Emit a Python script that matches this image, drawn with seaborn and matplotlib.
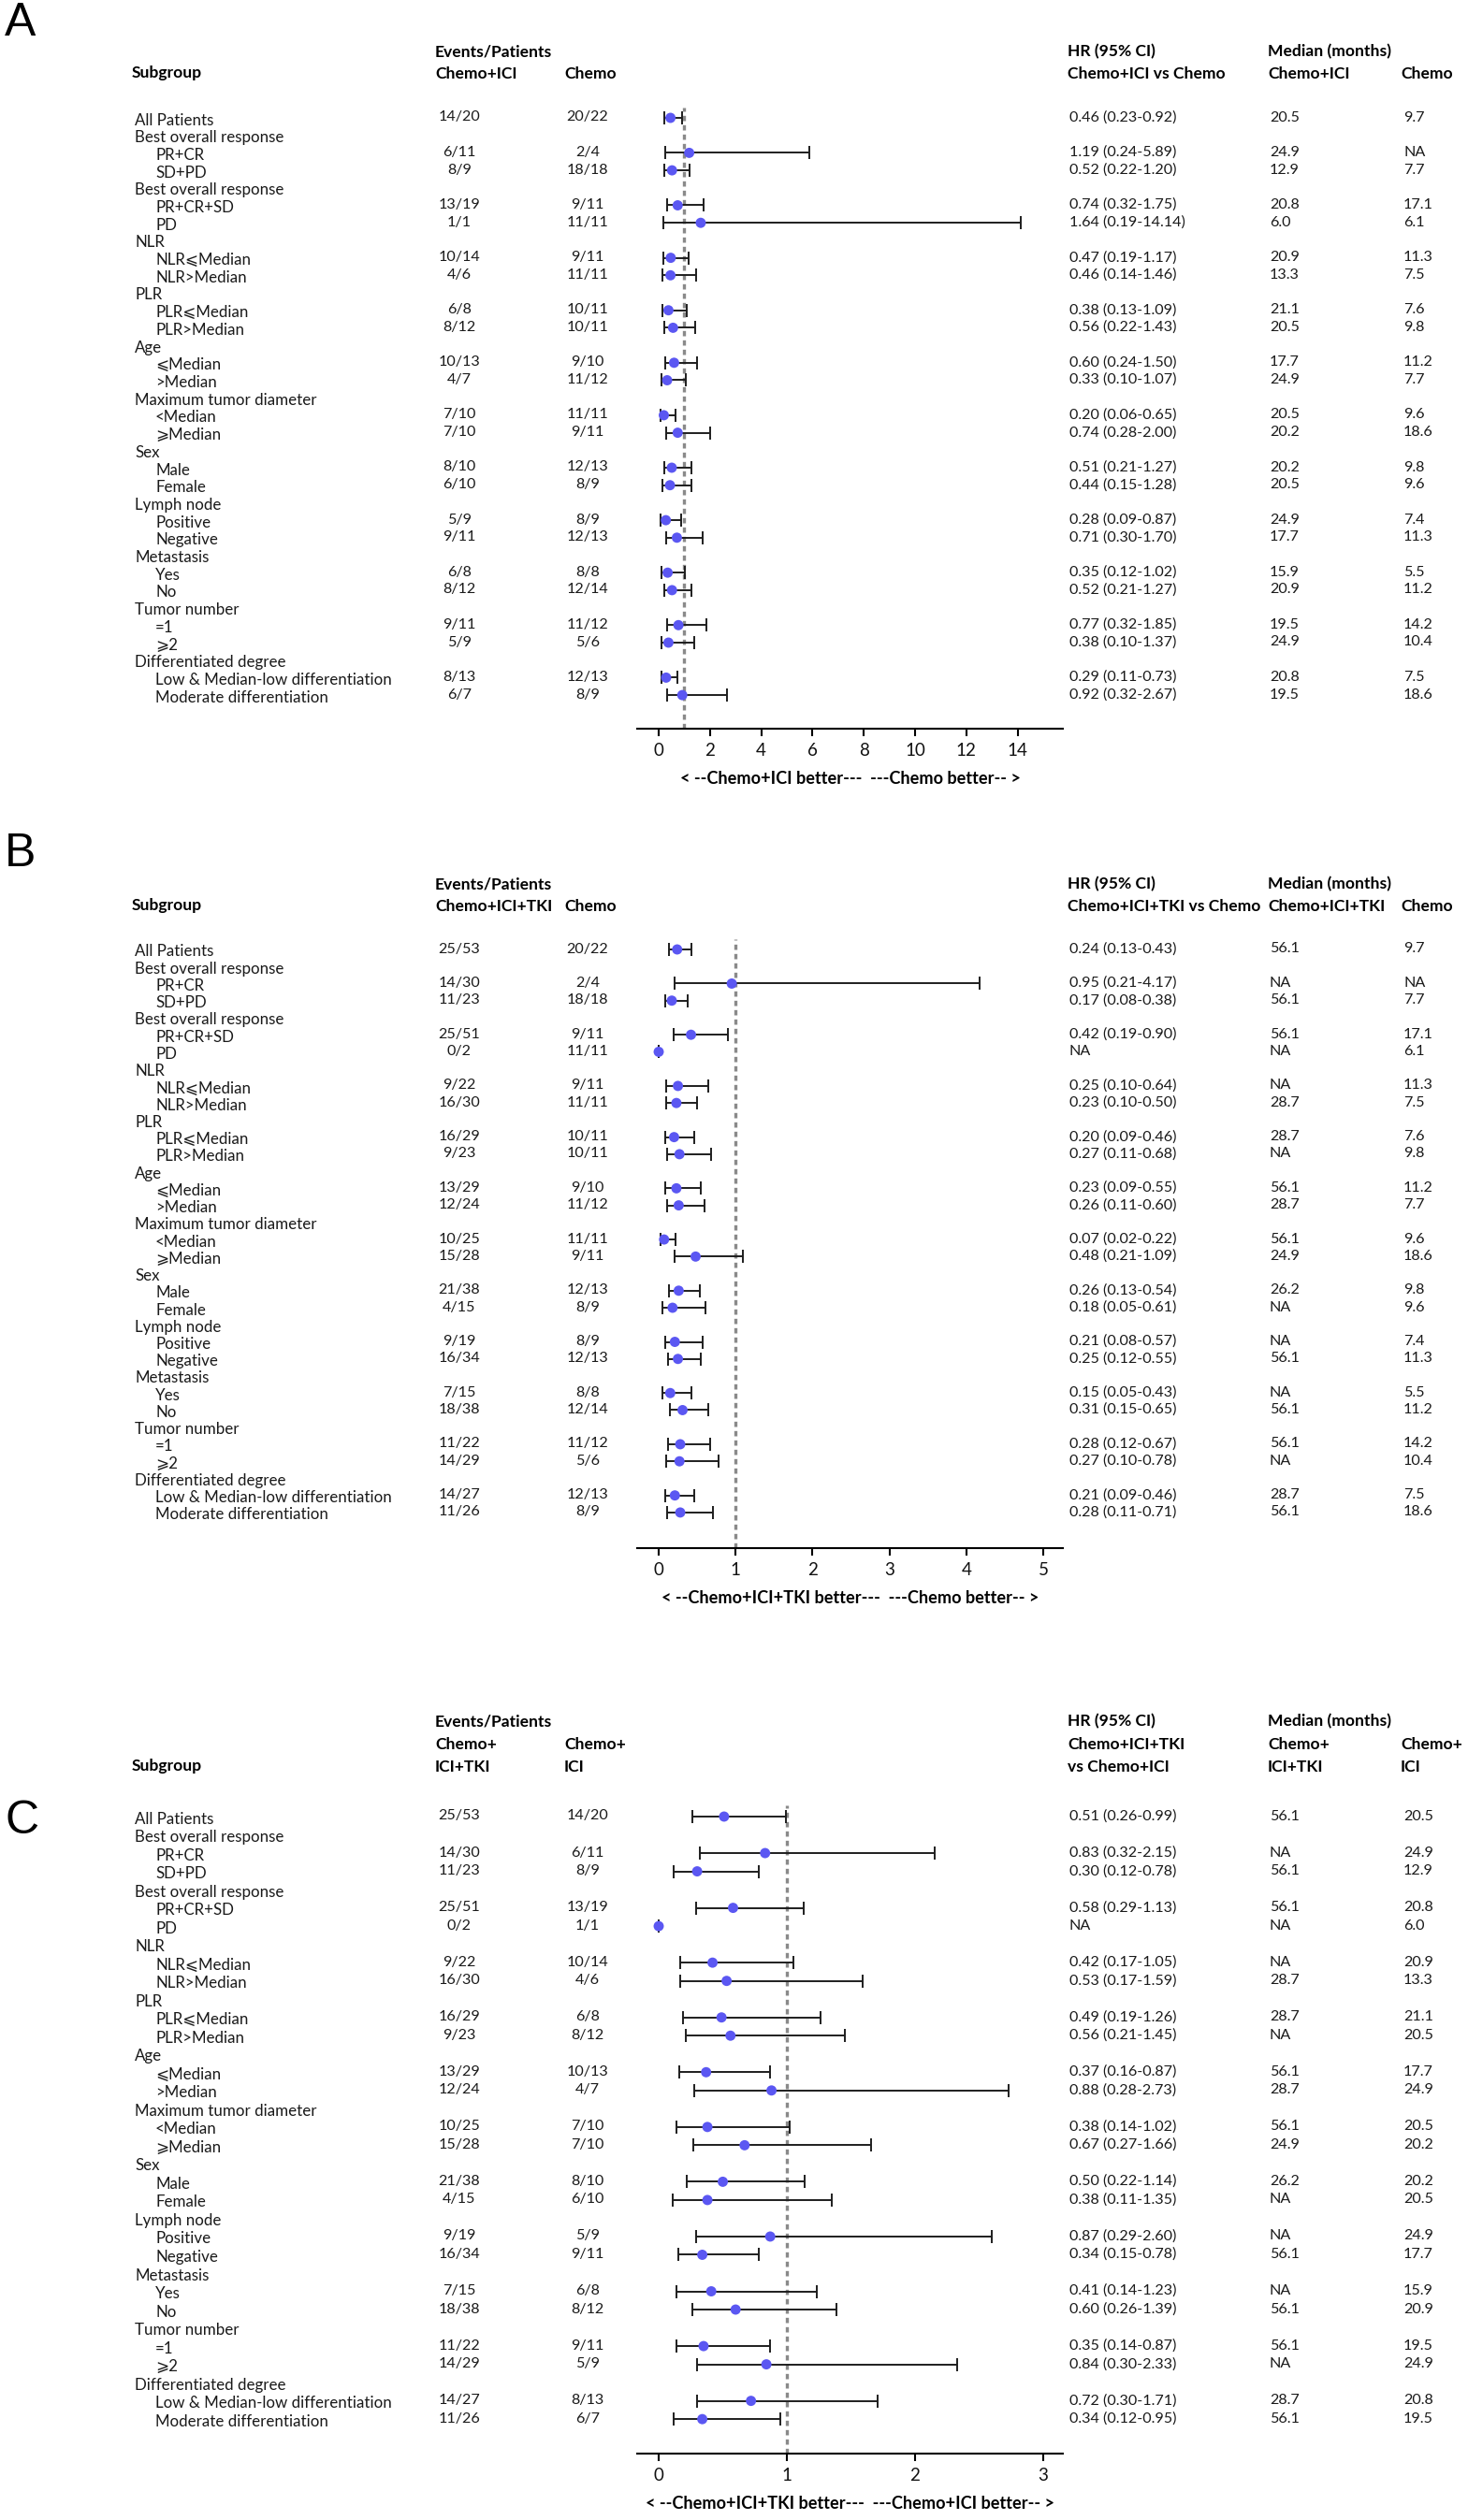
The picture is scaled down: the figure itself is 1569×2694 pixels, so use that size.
import numpy as np
import pandas as pd
import matplotlib
matplotlib.use("Agg")
import matplotlib.pyplot as plt
import seaborn as sns

W, H = 1569, 2694
sns.set_theme(style="white")
plt.rcParams["font.family"] = ["Lato", "DejaVu Sans"]

# ---------------- shared row labels ----------------
subgroups = ["All Patients", "Best overall response", "PR+CR", "SD+PD",
             "Best overall response", "PR+CR+SD", "PD",
             "NLR", "NLR⩽Median", "NLR>Median",
             "PLR", "PLR⩽Median", "PLR>Median",
             "Age", "⩽Median", ">Median",
             "Maximum tumor diameter", "<Median", "⩾Median",
             "Sex", "Male", "Female",
             "Lymph node", "Positive", "Negative",
             "Metastasis", "Yes", "No",
             "Tumor number", "=1", "⩾2",
             "Differentiated degree", "Low & Median-low differentiation",
             "Moderate differentiation"]
group_headers = [1, 4, 7, 10, 13, 16, 19, 22, 25, 28, 31]

# ---------------- Panel A: Chemo+ICI vs Chemo ----------------
a_ev1 = ["14/20", "6/11", "8/9", "13/19", "1/1", "10/14", "4/6", "6/8", "8/12", "10/13", "4/7",
         "7/10", "7/10", "8/10", "6/10", "5/9", "9/11", "6/8", "8/12", "9/11", "5/9", "8/13", "6/7"]
a_ev2 = ["20/22", "2/4", "18/18", "9/11", "11/11", "9/11", "11/11", "10/11", "10/11", "9/10", "11/12",
         "11/11", "9/11", "12/13", "8/9", "8/9", "12/13", "8/8", "12/14", "11/12", "5/6", "12/13", "8/9"]
a_hr = [0.46, 1.19, 0.52, 0.74, 1.64, 0.47, 0.46, 0.38, 0.56, 0.60, 0.33,
        0.20, 0.74, 0.51, 0.44, 0.28, 0.71, 0.35, 0.52, 0.77, 0.38, 0.29, 0.92]
a_lo = [0.23, 0.24, 0.22, 0.32, 0.19, 0.19, 0.14, 0.13, 0.22, 0.24, 0.10,
        0.06, 0.28, 0.21, 0.15, 0.09, 0.30, 0.12, 0.21, 0.32, 0.10, 0.11, 0.32]
a_hi = [0.92, 5.89, 1.20, 1.75, 14.14, 1.17, 1.46, 1.09, 1.43, 1.50, 1.07,
        0.65, 2.00, 1.27, 1.28, 0.87, 1.70, 1.02, 1.27, 1.85, 1.37, 0.73, 2.67]
a_hrtxt = ["0.46 (0.23-0.92)", "1.19 (0.24-5.89)", "0.52 (0.22-1.20)", "0.74 (0.32-1.75)",
           "1.64 (0.19-14.14)", "0.47 (0.19-1.17)", "0.46 (0.14-1.46)", "0.38 (0.13-1.09)",
           "0.56 (0.22-1.43)", "0.60 (0.24-1.50)", "0.33 (0.10-1.07)", "0.20 (0.06-0.65)",
           "0.74 (0.28-2.00)", "0.51 (0.21-1.27)", "0.44 (0.15-1.28)", "0.28 (0.09-0.87)",
           "0.71 (0.30-1.70)", "0.35 (0.12-1.02)", "0.52 (0.21-1.27)", "0.77 (0.32-1.85)",
           "0.38 (0.10-1.37)", "0.29 (0.11-0.73)", "0.92 (0.32-2.67)"]
a_med1 = ["20.5", "24.9", "12.9", "20.8", "6.0", "20.9", "13.3", "21.1", "20.5", "17.7", "24.9",
          "20.5", "20.2", "20.2", "20.5", "24.9", "17.7", "15.9", "20.9", "19.5", "24.9", "20.8", "19.5"]
a_med2 = ["9.7", "NA", "7.7", "17.1", "6.1", "11.3", "7.5", "7.6", "9.8", "11.2", "7.7",
          "9.6", "18.6", "9.8", "9.6", "7.4", "11.3", "5.5", "11.2", "14.2", "10.4", "7.5", "18.6"]
a_ticks = [0, 2, 4, 6, 8, 10, 12, 14]

# ---------------- Panel B: Chemo+ICI+TKI vs Chemo ----------------
b_ev1 = ["25/53", "14/30", "11/23", "25/51", "0/2", "9/22", "16/30", "16/29", "9/23", "13/29", "12/24",
         "10/25", "15/28", "21/38", "4/15", "9/19", "16/34", "7/15", "18/38", "11/22", "14/29", "14/27", "11/26"]
b_ev2 = ["20/22", "2/4", "18/18", "9/11", "11/11", "9/11", "11/11", "10/11", "10/11", "9/10", "11/12",
         "11/11", "9/11", "12/13", "8/9", "8/9", "12/13", "8/8", "12/14", "11/12", "5/6", "12/13", "8/9"]
b_hr = [0.24, 0.95, 0.17, 0.42, 0.0, 0.25, 0.23, 0.20, 0.27, 0.23, 0.26,
        0.07, 0.48, 0.26, 0.18, 0.21, 0.25, 0.15, 0.31, 0.28, 0.27, 0.21, 0.28]
b_lo = [0.13, 0.21, 0.08, 0.19, 0.0, 0.10, 0.10, 0.09, 0.11, 0.09, 0.11,
        0.02, 0.21, 0.13, 0.05, 0.08, 0.12, 0.05, 0.15, 0.12, 0.10, 0.09, 0.11]
b_hi = [0.43, 4.17, 0.38, 0.90, 0.0, 0.64, 0.50, 0.46, 0.68, 0.55, 0.60,
        0.22, 1.09, 0.54, 0.61, 0.57, 0.55, 0.43, 0.65, 0.67, 0.78, 0.46, 0.71]
b_hrtxt = ["0.24 (0.13-0.43)", "0.95 (0.21-4.17)", "0.17 (0.08-0.38)", "0.42 (0.19-0.90)", "NA",
           "0.25 (0.10-0.64)", "0.23 (0.10-0.50)", "0.20 (0.09-0.46)", "0.27 (0.11-0.68)",
           "0.23 (0.09-0.55)", "0.26 (0.11-0.60)", "0.07 (0.02-0.22)", "0.48 (0.21-1.09)",
           "0.26 (0.13-0.54)", "0.18 (0.05-0.61)", "0.21 (0.08-0.57)", "0.25 (0.12-0.55)",
           "0.15 (0.05-0.43)", "0.31 (0.15-0.65)", "0.28 (0.12-0.67)", "0.27 (0.10-0.78)",
           "0.21 (0.09-0.46)", "0.28 (0.11-0.71)"]
b_med1 = ["56.1", "NA", "56.1", "56.1", "NA", "NA", "28.7", "28.7", "NA", "56.1", "28.7",
          "56.1", "24.9", "26.2", "NA", "NA", "56.1", "NA", "56.1", "56.1", "NA", "28.7", "56.1"]
b_med2 = ["9.7", "NA", "7.7", "17.1", "6.1", "11.3", "7.5", "7.6", "9.8", "11.2", "7.7",
          "9.6", "18.6", "9.8", "9.6", "7.4", "11.3", "5.5", "11.2", "14.2", "10.4", "7.5", "18.6"]
b_ticks = [0, 1, 2, 3, 4, 5]

# ---------------- Panel C: Chemo+ICI+TKI vs Chemo+ICI ----------------
c_ev1 = ["25/53", "14/30", "11/23", "25/51", "0/2", "9/22", "16/30", "16/29", "9/23", "13/29", "12/24",
         "10/25", "15/28", "21/38", "4/15", "9/19", "16/34", "7/15", "18/38", "11/22", "14/29", "14/27", "11/26"]
c_ev2 = ["14/20", "6/11", "8/9", "13/19", "1/1", "10/14", "4/6", "6/8", "8/12", "10/13", "4/7",
         "7/10", "7/10", "8/10", "6/10", "5/9", "9/11", "6/8", "8/12", "9/11", "5/9", "8/13", "6/7"]
c_hr = [0.51, 0.83, 0.30, 0.58, 0.0, 0.42, 0.53, 0.49, 0.56, 0.37, 0.88,
        0.38, 0.67, 0.50, 0.38, 0.87, 0.34, 0.41, 0.60, 0.35, 0.84, 0.72, 0.34]
c_lo = [0.26, 0.32, 0.12, 0.29, 0.0, 0.17, 0.17, 0.19, 0.21, 0.16, 0.28,
        0.14, 0.27, 0.22, 0.11, 0.29, 0.15, 0.14, 0.26, 0.14, 0.30, 0.30, 0.12]
c_hi = [0.99, 2.15, 0.78, 1.13, 0.0, 1.05, 1.59, 1.26, 1.45, 0.87, 2.73,
        1.02, 1.66, 1.14, 1.35, 2.60, 0.78, 1.23, 1.39, 0.87, 2.33, 1.71, 0.95]
c_hrtxt = ["0.51 (0.26-0.99)", "0.83 (0.32-2.15)", "0.30 (0.12-0.78)", "0.58 (0.29-1.13)", "NA",
           "0.42 (0.17-1.05)", "0.53 (0.17-1.59)", "0.49 (0.19-1.26)", "0.56 (0.21-1.45)",
           "0.37 (0.16-0.87)", "0.88 (0.28-2.73)", "0.38 (0.14-1.02)", "0.67 (0.27-1.66)",
           "0.50 (0.22-1.14)", "0.38 (0.11-1.35)", "0.87 (0.29-2.60)", "0.34 (0.15-0.78)",
           "0.41 (0.14-1.23)", "0.60 (0.26-1.39)", "0.35 (0.14-0.87)", "0.84 (0.30-2.33)",
           "0.72 (0.30-1.71)", "0.34 (0.12-0.95)"]
c_med1 = ["56.1", "NA", "56.1", "56.1", "NA", "NA", "28.7", "28.7", "NA", "56.1", "28.7",
          "56.1", "24.9", "26.2", "NA", "NA", "56.1", "NA", "56.1", "56.1", "NA", "28.7", "56.1"]
c_med2 = ["20.5", "24.9", "12.9", "20.8", "6.0", "20.9", "13.3", "21.1", "20.5", "17.7", "24.9",
          "20.5", "20.2", "20.2", "20.5", "24.9", "17.7", "15.9", "20.9", "19.5", "24.9", "20.8", "19.5"]
c_ticks = [0, 1, 2, 3]

panels = [
    dict(letter="A", letter_y=25, first=126, sp=18.7, axis=779, xlim=(-0.84, 15.77), ticks=a_ticks,
         ev1=a_ev1, ev2=a_ev2, hr=a_hr, lo=a_lo, hi=a_hi, hrtxt=a_hrtxt, med1=a_med1, med2=a_med2,
         head_y=[54, 77],
         head_ev=[["Chemo+ICI"], ["Chemo"]], head_hr=["HR (95% CI)", "Chemo+ICI vs Chemo"],
         head_med=[["Chemo+ICI"], ["Chemo"]],
         xlabel="< --Chemo+ICI better---  ---Chemo better-- >"),
    dict(letter="B", letter_y=913, first=1015, sp=18.24, axis=1655, xlim=(-0.28, 5.255), ticks=b_ticks,
         ev1=b_ev1, ev2=b_ev2, hr=b_hr, lo=b_lo, hi=b_hi, hrtxt=b_hrtxt, med1=b_med1, med2=b_med2,
         head_y=[944, 967],
         head_ev=[["Chemo+ICI+TKI"], ["Chemo"]], head_hr=["HR (95% CI)", "Chemo+ICI+TKI vs Chemo"],
         head_med=[["Chemo+ICI+TKI"], ["Chemo"]],
         xlabel="< --Chemo+ICI+TKI better---  ---Chemo better-- >"),
    dict(letter="C", letter_y=1947, first=1942, sp=19.52, axis=2623, xlim=(-0.168, 3.153), ticks=c_ticks,
         ev1=c_ev1, ev2=c_ev2, hr=c_hr, lo=c_lo, hi=c_hi, hrtxt=c_hrtxt, med1=c_med1, med2=c_med2,
         head_y=[1839, 1863, 1887],
         head_ev=[["Chemo+", "ICI+TKI"], ["Chemo+", "ICI"]],
         head_hr=["HR (95% CI)", "Chemo+ICI+TKI", "vs Chemo+ICI"],
         head_med=[["Chemo+", "ICI+TKI"], ["Chemo+", "ICI"]],
         xlabel="< --Chemo+ICI+TKI better---  ---Chemo+ICI better-- >"),
]

fig = plt.figure(figsize=(W / 100, H / 100), dpi=100)
fig.patch.set_facecolor("white")

TXT = "#1a1a1a"
FS = 12.2     # subgroup labels
NFS = 11.6    # numbers
HFS = 12.6    # bold headers


def T(x, y, s, **kw):
    kw.setdefault("color", TXT)
    kw.setdefault("va", "center_baseline")
    return fig.text(x / W, 1 - y / H, s, **kw)


X_LAB, X_IND = 144, 166
X_EV1, X_EV2 = 491, 628
X_HR, X_MED1, X_MED2 = 1143, 1357, 1500
AX_X0, AX_X1 = 681, 1136

data_rows = [i for i in range(len(subgroups)) if i not in group_headers]

for p in panels:
    first, sp, axis_y = p["first"], p["sp"], p["axis"]

    def ry(r):
        return first + r * sp

    # panel letter
    T(5, p["letter_y"], p["letter"], fontsize=36, family=["Liberation Sans", "DejaVu Sans"],
      color="black", va="center")

    # headers
    hy = p["head_y"]
    hk = dict(fontsize=HFS, fontweight="bold", color="black")
    T(141, hy[-1], "Subgroup", **hk)
    T(465, hy[0], "Events/Patients", **hk)
    T(1141, hy[0], p["head_hr"][0], **hk)
    T(1355, hy[0], "Median (months)", **hk)
    for k, line in enumerate(p["head_ev"][0]):
        T(465, hy[1 + k], line, **hk)
    for k, line in enumerate(p["head_ev"][1]):
        T(603, hy[1 + k], line, **hk)
    for k, line in enumerate(p["head_hr"][1:]):
        T(1141, hy[1 + k], line, **hk)
    for k, line in enumerate(p["head_med"][0]):
        T(1355, hy[1 + k], line, **hk)
    for k, line in enumerate(p["head_med"][1]):
        T(1497, hy[1 + k], line, **hk)

    # subgroup labels
    for i, lab in enumerate(subgroups):
        x = X_LAB if (i == 0 or i in group_headers) else X_IND
        T(x, ry(i) + 1, lab, fontsize=FS)

    # numeric columns
    for j, r in enumerate(data_rows):
        y = ry(r) - 2
        T(X_EV1, y, p["ev1"][j], fontsize=NFS, ha="center")
        T(X_EV2, y, p["ev2"][j], fontsize=NFS, ha="center")
        T(X_HR, y, p["hrtxt"][j], fontsize=NFS)
        T(X_MED1, y, p["med1"][j], fontsize=NFS)
        T(X_MED2, y, p["med2"][j], fontsize=NFS)

    # forest axes
    top = first - 0.6 * sp
    ax = fig.add_axes([AX_X0 / W, 1 - axis_y / H, (AX_X1 - AX_X0) / W, (axis_y - top) / H])
    df = pd.DataFrame({"row": data_rows, "hr": p["hr"], "lo": p["lo"], "hi": p["hi"]})
    ax.axvline(1, color="#8a8a8a", lw=2.4, ls=(0, (1.7, 1.3)), zorder=1)
    ax.errorbar(df["hr"], df["row"], xerr=[df["hr"] - df["lo"], df["hi"] - df["hr"]],
                fmt="none", ecolor="#1e1e1e", elinewidth=1.4, capsize=5, capthick=1.4, zorder=2)
    sns.scatterplot(data=df, x="hr", y="row", ax=ax, color="#5b57f2", s=62,
                    edgecolor="none", linewidth=0, zorder=3, legend=False)
    ax.set_xlim(*p["xlim"])
    ax.set_ylim((axis_y - first) / sp, (top - first) / sp)
    ax.set_xticks(p["ticks"])
    ax.set_xticklabels([str(t) for t in p["ticks"]])
    ax.set_yticks([])
    ax.set_xlabel("")
    ax.set_ylabel("")
    ax.set_facecolor("none")
    for s in ["top", "left", "right"]:
        ax.spines[s].set_visible(False)
    ax.spines["bottom"].set_color("black")
    ax.spines["bottom"].set_linewidth(1.5)
    ax.tick_params(axis="x", bottom=True, length=6, width=1.5, color="black",
                   labelsize=13.5, labelcolor="#111111", pad=5)
    T((AX_X0 + AX_X1) / 2, axis_y + 54, p["xlabel"], fontsize=13.1, fontweight="bold",
      color="black", ha="center", va="center")

fig.savefig("out.png", dpi=100, facecolor="white")
